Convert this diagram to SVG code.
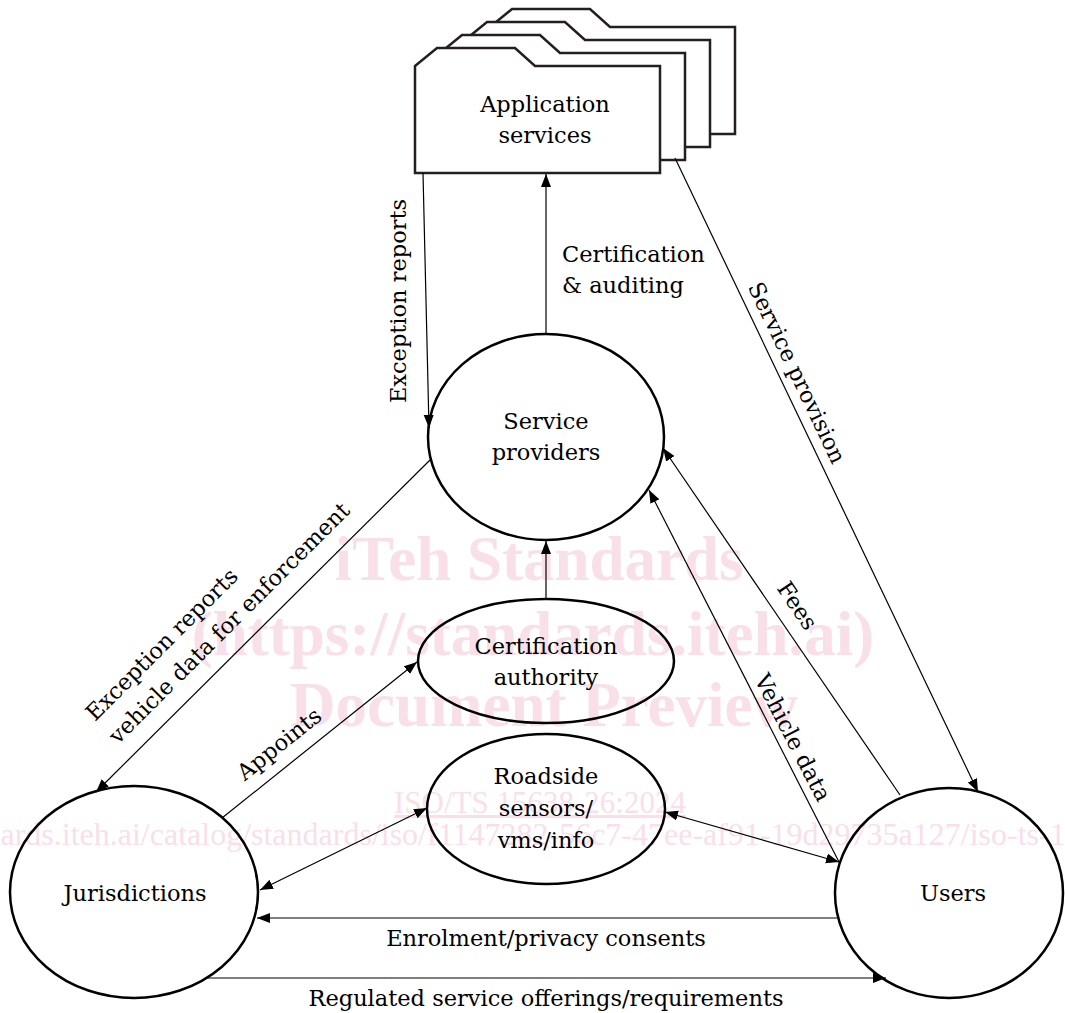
<svg xmlns="http://www.w3.org/2000/svg" width="1065" height="1013" viewBox="0 0 1065 1013">
<style>
.wm{font-family:"Liberation Serif","Times New Roman",serif;fill:#f9e0e8}
.wmb{font-weight:bold;font-size:63px}
.t{font-family:"DejaVu Serif",serif;font-size:22.5px;fill:#000}
.c{text-anchor:middle}
.node{fill:none;stroke:#000;stroke-width:2.5}
.card{fill:#fff;stroke:#231f20;stroke-width:2.5;stroke-linejoin:miter}
.ln{fill:none;stroke:#000;stroke-width:1.2}
.a{marker-end:url(#ah)}
.aa{marker-end:url(#ah);marker-start:url(#ahs)}
</style>
<defs>
<marker id="ah" markerUnits="userSpaceOnUse" markerWidth="14" markerHeight="11" refX="13" refY="5" orient="auto"><path d="M0,0 L13,5 L0,10 Z" fill="#000"/></marker>
<marker id="ahs" markerUnits="userSpaceOnUse" markerWidth="14" markerHeight="11" refX="13" refY="5" orient="auto-start-reverse"><path d="M0,0 L13,5 L0,10 Z" fill="#000"/></marker>
<path id="cardshape" d="M0,0 L22,-18 L100,-18 L120,0 L245,0 L245,107 L0,107 Z"/>
</defs>
<rect width="1065" height="1013" fill="#fff"/>
<g id="watermark">
<text class="wm wmb c" x="539" y="580">iTeh Standards</text>
<text class="wm wmb c" x="533" y="655">(https://standards.iteh.ai)</text>
<text class="wm wmb c" x="544" y="726">Document Preview</text>
<text class="wm c" x="540" y="813" font-size="31" text-decoration="underline">ISO/TS 15638-26:2024</text>
<text class="wm" x="-156" y="845" font-size="32">https://standards.iteh.ai/catalog/standards/iso/f1147282-56c7-47ee-af91-19d29735a127/iso-ts-15638-26-2024</text>
</g>
<g id="application-services">
<use href="#cardshape" class="card" transform="translate(490,27)"/>
<use href="#cardshape" class="card" transform="translate(465,40)"/>
<use href="#cardshape" class="card" transform="translate(440,53)"/>
<use href="#cardshape" class="card" transform="translate(415,66)"/>
<text class="t c" x="545" y="112">Application</text>
<text class="t c" x="545" y="143">services</text>
</g>
<g id="service-providers">
<ellipse class="node" cx="546" cy="437" rx="118" ry="103"/>
<text class="t c" x="546" y="429">Service</text>
<text class="t c" x="546" y="460">providers</text>
</g>
<g id="certification-authority">
<ellipse class="node" cx="546" cy="661" rx="128" ry="62"/>
<text class="t c" x="546" y="654">Certification</text>
<text class="t c" x="546" y="685">authority</text>
</g>
<g id="roadside">
<ellipse class="node" cx="546" cy="809" rx="119" ry="75"/>
<text class="t c" x="546" y="784">Roadside</text>
<text class="t c" x="546" y="816">sensors/</text>
<text class="t c" x="546" y="848">vms/info</text>
</g>
<g id="jurisdictions">
<ellipse class="node" cx="134" cy="892" rx="124" ry="106"/>
<text class="t c" x="135" y="901">Jurisdictions</text>
</g>
<g id="users">
<ellipse class="node" cx="949" cy="893" rx="114" ry="105"/>
<text class="t c" x="953" y="901">Users</text>
</g>
<g id="connectors">
<line class="ln a" x1="423" y1="173" x2="429" y2="428"/>
<line class="ln a" x1="546" y1="333" x2="546" y2="174"/>
<line class="ln a" x1="675" y1="158" x2="978" y2="792"/>
<line class="ln a" x1="430" y1="460" x2="96" y2="792"/>
<line class="ln a" x1="222" y1="818" x2="417" y2="662"/>
<line class="ln a" x1="546" y1="599" x2="546" y2="541"/>
<line class="ln aa" x1="260" y1="890" x2="427" y2="808"/>
<line class="ln aa" x1="665" y1="812" x2="839" y2="862"/>
<line class="ln a" x1="837" y1="918" x2="257" y2="918"/>
<line class="ln a" x1="206" y1="978" x2="886" y2="978"/>
<line class="ln a" x1="900" y1="795" x2="663" y2="448"/>
<line class="ln a" x1="839" y1="862" x2="649" y2="490"/>
</g>
<g id="labels">
<text class="t" x="562" y="262">Certification</text>
<text class="t" x="562" y="293">&amp; auditing</text>
<text class="t c" transform="translate(406,301) rotate(-90)">Exception reports</text>
<text class="t c" transform="translate(790,376) rotate(64.5)">Service provision</text>
<text class="t" transform="translate(95,722) rotate(-45)">Exception reports</text>
<text class="t" transform="translate(118,745) rotate(-45)">vehicle data for enforcement</text>
<text class="t c" transform="translate(284,750) rotate(-38.7)">Appoints</text>
<text class="t c" transform="translate(791,610) rotate(55.8)">Fees</text>
<text class="t c" transform="translate(786,741) rotate(62.7)">Vehicle data</text>
<text class="t c" x="546" y="946">Enrolment/privacy consents</text>
<text class="t c" x="546" y="1006">Regulated service offerings/requirements</text>
</g>
</svg>
